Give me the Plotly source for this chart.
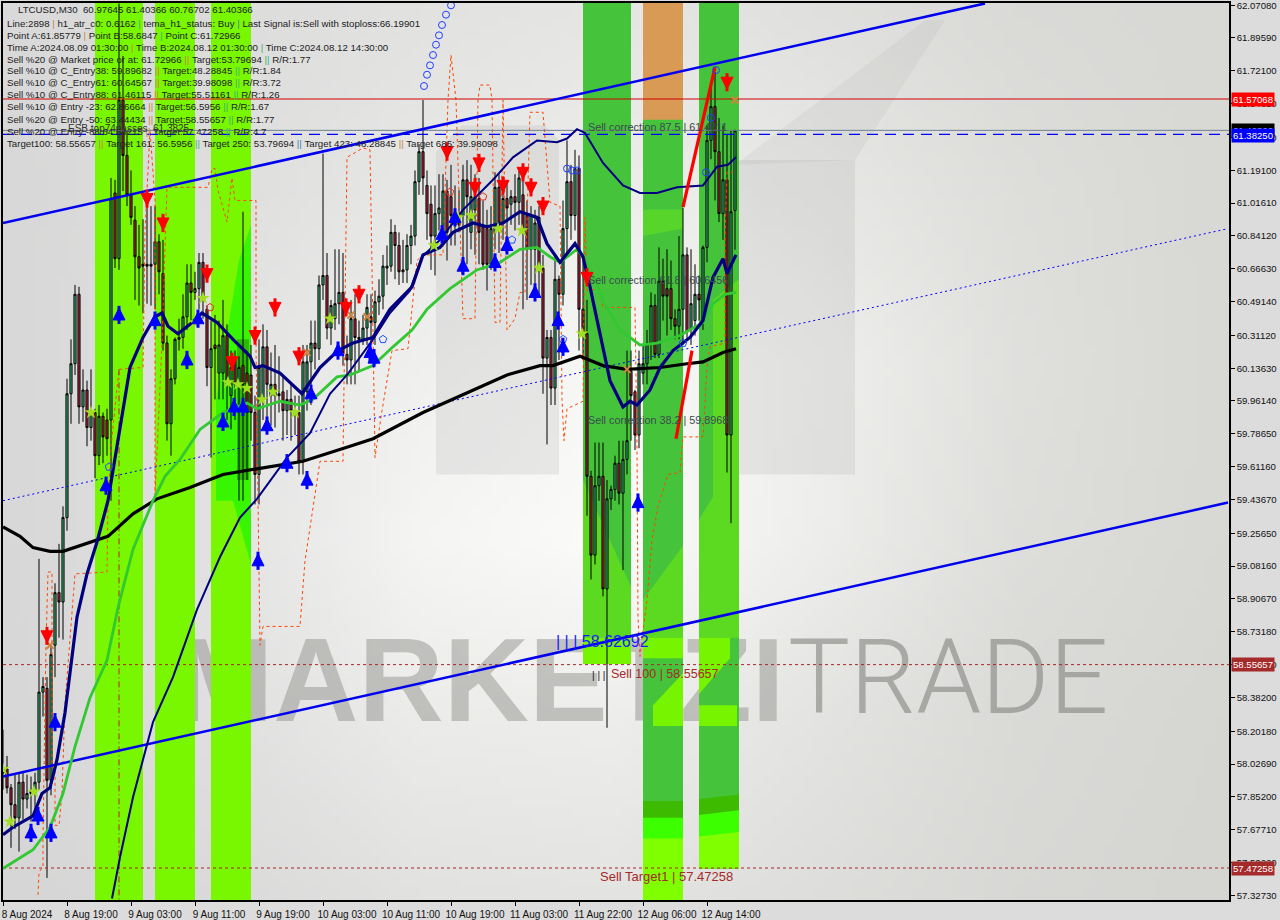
import re, zlib, struct, base64
import plotly.graph_objects as go

# ---- candle data (price) ----
highs = [58.21,58.07,57.92,57.97,57.98,57.99,57.97,57.96,57.98,59.12,58.49,58.49,58.66,58.99,59.20,59.40,60.08,60.29,60.58,60.57,
60.13,60.07,60.13,59.92,59.94,59.90,59.92,61.15,61.14,62.08,61.80,61.40,61.19,61.00,60.90,60.93,61.00,61.00,61.00,60.85,
60.82,60.31,60.13,60.30,60.40,60.53,60.69,60.69,60.65,60.75,60.75,60.47,60.39,60.42,60.39,60.50,60.37,60.23,60.23,60.20,
60.97,60.23,60.26,59.99,60.29,60.37,60.34,60.22,60.26,60.20,60.10,60.02,60.05,59.99,59.99,60.26,60.26,60.39,60.39,60.63,
61.28,60.75,60.50,60.77,60.77,60.75,60.31,60.50,60.53,60.39,60.42,60.53,60.53,60.55,60.61,60.74,60.79,60.93,60.90,60.86,
60.82,60.85,60.90,61.19,61.33,61.565,61.19,61.11,61.11,61.17,61.17,61.14,61.22,61.11,61.085,61.22,61.245,61.22,61.17,61.15,
61.03,60.98,61.00,61.18,61.17,61.14,61.14,61.085,61.17,61.19,61.14,61.03,61.00,60.98,61.00,60.74,60.34,60.34,60.74,60.63,
61.03,61.35,61.22,61.30,61.27,60.71,60.50,59.59,59.74,59.74,59.74,59.54,59.51,59.67,59.75,59.75,60.23,60.23,60.02,60.23,
60.26,60.34,60.54,60.53,60.78,60.72,60.77,60.71,60.45,60.84,60.99,60.78,60.77,60.69,60.63,60.79,61.43,61.64,61.715,61.47,
61.43,61.38,61.405,61.40366]
opens = [58.00,58.00,57.90,57.81,57.74,57.93,57.84,57.88,57.87,57.93,58.41,58.43,57.94,58.66,58.94,58.89,59.34,60.00,60.16,60.53,
59.93,60.02,59.82,59.90,59.67,59.88,59.86,59.86,61.07,60.72,61.565,61.27,61.06,60.925,60.73,60.69,60.69,60.69,60.69,60.81,
60.64,60.27,59.84,60.08,60.29,60.30,60.41,60.59,60.54,60.56,60.70,60.45,60.14,60.26,60.11,60.11,60.31,59.99,60.18,60.05,
60.15,60.11,60.10,59.90,59.57,59.97,60.25,59.99,60.05,59.99,60.01,59.91,59.97,59.91,59.90,59.64,60.01,60.17,60.27,60.24,
60.58,60.63,60.35,60.40,60.48,60.54,60.21,60.18,60.40,60.30,60.29,60.35,60.41,60.38,60.49,60.52,60.67,60.68,60.86,60.79,
60.65,60.66,60.79,60.84,61.13,61.29,61.11,61.01,60.84,60.96,60.84,61.08,61.05,60.96,60.95,60.95,61.14,60.86,60.98,61.04,
60.89,60.88,60.69,60.86,61.10,60.91,61.04,61.01,61.05,61.02,61.06,60.95,60.77,60.77,60.94,60.67,60.19,60.30,60.03,60.61,
60.53,60.88,61.13,60.95,61.20,60.45,60.32,59.56,59.14,59.51,59.56,58.96,59.44,59.49,59.63,59.47,59.65,60.12,60.01,59.78,
60.11,60.16,60.27,60.47,60.21,60.60,60.56,60.56,60.40,60.36,60.45,60.74,60.34,60.39,60.53,60.39,60.78,61.35,61.53,61.29,
60.96,61.14,59.78,60.97645]
closes = [57.98,57.90,57.81,57.74,57.93,57.84,57.87,57.87,57.93,58.41,58.44,57.94,58.61,58.94,58.89,59.34,60.00,60.16,60.53,59.93,
60.02,59.82,59.90,59.67,59.88,59.77,59.76,61.04,60.72,61.565,61.27,61.06,60.94,60.73,60.67,60.68,60.68,60.68,60.81,60.65,
60.27,59.84,60.08,60.29,60.30,60.41,60.59,60.54,60.56,60.70,60.51,60.14,60.24,60.24,60.26,60.31,60.05,60.14,60.05,60.14,
60.05,59.90,59.90,59.57,60.14,60.25,60.05,60.05,59.99,60.00,59.91,59.97,59.91,59.90,59.64,60.17,60.17,60.27,60.24,60.58,
60.63,60.35,60.47,60.48,60.54,60.22,60.18,60.40,60.30,60.29,60.35,60.46,60.38,60.49,60.52,60.68,60.68,60.86,60.79,60.65,
60.66,60.79,60.84,61.13,61.29,61.15,60.96,60.84,60.96,60.99,61.08,60.86,60.95,60.90,60.90,61.14,61.05,61.05,61.05,60.86,
60.69,60.69,60.88,61.10,60.91,61.04,60.99,61.05,61.02,61.15,60.86,60.77,60.95,60.91,60.67,60.19,60.30,60.03,60.61,60.53,
60.88,61.13,60.95,61.20,60.45,60.32,59.56,59.14,59.51,59.56,58.96,59.44,59.49,59.63,59.47,59.65,59.75,59.99,59.78,60.16,
60.16,60.27,60.47,60.21,60.60,60.52,60.52,60.40,60.36,60.45,60.74,60.33,60.48,60.53,60.50,60.78,61.35,61.53,61.29,60.96,
61.14,59.78,60.97,61.40366]
lows = [57.89,57.87,57.58,57.68,57.56,57.73,57.79,57.72,57.74,57.89,58.28,57.42,57.86,58.49,58.70,58.69,59.27,59.84,60.10,59.84,
59.85,59.72,59.75,59.55,59.62,59.63,59.67,59.43,60.67,60.66,61.08,61.00,60.90,60.50,60.47,60.43,60.48,60.47,60.45,60.53,
60.23,59.75,59.67,60.05,60.23,60.24,60.34,60.39,60.50,60.45,60.40,60.04,59.66,59.97,59.97,59.97,59.86,59.81,59.86,59.43,
59.43,59.54,59.75,59.41,59.41,59.86,59.81,59.83,59.82,59.90,59.75,59.78,59.75,59.78,59.57,59.57,59.91,59.94,60.13,60.18,
60.50,60.29,60.26,60.34,60.37,60.15,60.05,60.05,60.05,60.12,60.26,60.26,60.26,60.26,60.42,60.45,60.58,60.65,60.61,60.58,
60.59,60.59,60.69,60.79,61.06,61.06,60.82,60.66,60.63,60.87,60.79,60.71,60.79,60.79,60.86,60.69,60.69,60.77,60.74,60.69,
60.66,60.55,60.66,60.77,60.75,60.82,60.79,60.90,60.87,60.90,60.45,60.50,60.58,60.58,60.53,60.00,59.73,59.94,59.94,60.18,
60.47,60.74,60.82,60.87,60.23,60.18,59.35,59.01,59.09,59.43,58.92,58.22,59.38,59.43,59.41,59.06,59.57,59.75,59.70,59.71,
60.05,60.05,60.18,60.19,60.19,60.39,60.31,60.34,60.29,60.29,60.26,60.29,60.26,60.31,60.39,60.34,60.70,61.25,61.03,60.915,
60.82,59.58,59.31,60.76702]

# ---- indicator lines (bar index, price) ----
black_x = [0,4.25,7.5,11.75,15,19.25,23.5,26.25,32.5,38.5,46.75,55,63.5,75,86.75,92.5,105,117.5,126,134.25,137.5,144.25,150,156,164.25,171,175,180,183.25]
black_y = [59.29,59.24,59.18,59.16,59.16,59.19,59.22,59.24,59.36,59.44,59.50,59.57,59.60,59.64,59.72,59.76,59.90,60.02,60.10,60.15,60.15,60.20,60.15,60.13,60.14,60.16,60.17,60.22,60.24]
navy_x = [0,2.5,7.5,9.75,11.75,13.5,15.5,17.25,18.5,21,23.5,26.25,29.25,31.75,35,38,39.75,41.25,43.75,46.75,49.75,53.5,57.5,61.75,63,65,69.25,74.75,79.25,83.75,87.5,92.5,96.75,102.25,105,109.25,112.5,117.5,121,125,129.25,133.5,136,139.25,143,145,146.75,149.25,151.75,155,156.75,158.5,161.75,164.25,167.5,171.75,175,177.5,180,181,183.25]
navy_y = [57.65,57.69,57.75,57.87,57.90,58.05,58.30,58.58,58.81,59.04,59.21,59.43,59.82,60.14,60.30,60.41,60.43,60.36,60.32,60.37,60.43,60.38,60.29,60.20,60.14,60.15,60.11,60.00,60.14,60.23,60.27,60.30,60.45,60.57,60.74,60.78,60.86,60.91,60.89,60.91,60.97,60.94,60.80,60.70,60.80,60.73,60.57,60.32,60.07,59.93,59.96,59.94,60.02,60.14,60.23,60.30,60.39,60.62,60.72,60.64,60.74]
slow_x = [27.25,29.25,32.5,37.5,42.5,48.5,54.25,59.25,63.5,71,76.75,81.75,86,92.5,96.75,101.75,104.75,109.25,115,122.5,127.5,133.5,138.5,141,143.5,145.5,150,155,159.25,163.5,168.5,175,178.5,181.25,183.25]
slow_y = [57.31,57.53,57.85,58.25,58.49,58.85,59.13,59.34,59.44,59.66,59.79,60.00,60.10,60.29,60.43,60.55,60.73,60.82,60.98,61.14,61.26,61.35,61.34,61.36,61.41,61.39,61.23,61.11,61.07,61.07,61.10,61.11,61.21,61.22,61.26]
green_x = [0,7.5,11.75,15,18,21.75,26,28.75,32.5,37.5,40.5,44.25,49.25,55,61,63.5,69.25,74.25,77.5,83.5,86.75,92.5,97.5,102.25,106,111.75,118.5,124.25,129.25,133.5,136.75,139.25,143.5,146,150,154.25,159.25,163.5,169.25,175,177.5,180.5,183.25]
green_y = [57.47,57.57,57.69,57.87,58.12,58.38,58.58,58.86,59.17,59.43,59.56,59.65,59.81,59.90,59.95,59.92,59.96,59.94,59.97,60.09,60.10,60.15,60.25,60.34,60.45,60.56,60.66,60.70,60.77,60.78,60.73,60.70,60.77,60.70,60.50,60.34,60.26,60.27,60.31,60.38,60.48,60.53,60.54]
zig_x = [8.75,9,10,10,10.75,11.25,12.25,12.25,13,13,14,14.75,15.5,17.25,18,26,26.25,27.25,29,35,35.5,36.75,38,38,39.75,41,51.25,52.25,53,53.75,56,57.25,58,63.25,63.25,63.75,64.25,65,74.25,75.5,78.75,79.25,85,86,90,91.75,92.25,93,94.75,97.25,101.25,103.5,105,110,111.25,112,113.25,115,118,118.75,119.25,121.75,122.25,123,124.25,125,126,128,129.25,130.5,131.75,135,136.75,139.25,139.75,140.25,141,145,145.5,146,149.25,150,158,158.5,158.75,159.25,160,161,162.25,163.75,165.5,166.25,169.25,170,175,176,176.75,180.5,180.5,181,182.5]
zig_y = [57.33,57.45,57.48,57.64,58.67,59.05,59.05,58.01,57.99,57.70,57.70,57.87,58.35,58.83,59.04,59.05,59.43,59.77,60.13,60.14,60.86,61.405,61.03,59.46,60.27,61.10,61.10,61.20,61.20,61.085,60.915,61.15,61.03,61.03,60.25,59.43,58.66,58.76,58.76,59.11,59.59,59.64,59.64,61.26,61.31,61.30,60.67,59.66,59.91,60.23,60.24,60.71,60.74,60.74,61.565,61.805,61.565,60.40,60.40,61.565,61.645,61.645,61.565,60.38,60.38,61.565,60.34,60.40,60.54,60.54,61.50,61.50,61.02,61.00,59.97,59.75,59.92,59.96,60.94,60.55,60.56,60.46,60.46,59.72,58.81,58.60,58.74,58.90,59.22,59.40,59.52,59.57,59.58,59.77,59.77,60.14,60.25,60.27,60.82,61.18,61.18]

# channel + levels
chan_top_x, chan_top_y = [0,245.5],[60.91,62.08]
chan_bot_x, chan_bot_y = [0,306.25],[57.96,59.42]
chan_mid_x, chan_mid_y = [0,306.25],[59.43,60.88]
level_red = 61.57068
level_blue = 61.3825
level_bid = 61.40366
level_t100 = 58.55657
level_t1 = 57.47258
vline_bar = 29
red_leg1_x, red_leg1_y = [168.25,172.25],[59.76,60.23]
red_leg2_x, red_leg2_y = [170,178],[60.995,61.74]

# signal markers
up_x = [7,8.75,12,13,63.75,25.75,29,38,46,48.75,55,57.75,60,66,71,76,77,83.75,91.75,92.75,109.75,113,115,123,126,133,138.75,140,158.75]
up_y = [57.66,57.75,57.66,58.25,59.11,59.51,60.42,60.39,60.18,60.40,59.85,59.93,59.93,59.83,59.63,59.54,60.00,60.23,60.22,60.19,60.85,60.94,60.68,60.70,60.79,60.54,60.39,60.25,59.42]
down_x = [11,36,40,51,57.25,63,68,74,85.75,89,111,118,119,125,130,132,135,146,181]
down_y = [58.71,61.04,60.91,60.64,60.17,60.31,60.46,60.20,60.46,60.53,61.29,61.10,61.23,61.11,61.18,61.10,61.00,60.62,61.66]
cross_x = [11.75,76,87,91,156,183]
cross_y = [58.66,60.22,60.42,60.41,60.13,61.565]
star_x = [0,1.75,7.75,22,48,50,56.25,58.75,61,64.75,67.5,73,81.75,107.75,113.75,117,123.75,129.75,134,144.75]
star_y = [58.00,57.72,57.88,59.90,60.38,60.51,60.06,60.05,60.03,59.97,60.01,59.90,60.40,60.79,60.94,60.95,60.88,60.87,60.67,60.32]
circ_x = [105.25,106,106.75,107.5,108.25,109,109.75,110.75,112,141,142.25,143.5,175.75,177,178.25]
circ_y = [61.64,61.70,61.75,61.805,61.86,61.91,61.965,62.02,62.07,61.20,61.19,61.19,61.18,61.47,61.725]
hollow_red_x, hollow_red_y = [51.75,111.75,120],[60.46,61.075,61.05]
hollow_blue_x, hollow_blue_y = [26.5,95,127.25,140,170],[59.61,60.29,60.82,60.29,60.27]

# axes
y_ticks = [62.0708,61.8959,61.721,61.5461,61.3659,61.191,61.0161,60.8412,60.6663,60.4914,60.3112,60.1363,59.9614,59.7865,59.6116,59.4367,59.2565,59.0816,58.9067,58.7318,58.5569,58.382,58.2018,58.0269,57.852,57.6771,57.5022,57.3273]
x_tick_bars = [0,16,32,48,64,80,96,112,128,144,160,176]
x_tick_text = ["8 Aug 2024","8 Aug 19:00","9 Aug 03:00","9 Aug 11:00","9 Aug 19:00","10 Aug 03:00","10 Aug 11:00","10 Aug 19:00","11 Aug 03:00","11 Aug 22:00","12 Aug 06:00","12 Aug 14:00"]

# background shade grid, top row first
bg_shades = [[218,220,226,230,224,218,216],
             [216,222,232,238,232,222,216],
             [216,226,240,248,240,224,216],
             [216,226,245,252,238,222,216],
             [215,224,236,238,228,218,214],
             [214,218,226,228,222,216,213]]

# signal zones
band_starts = [23,38,52,145,160,174]
band_ends = [35,48,62,157,170,184]
LIME, GREEN = '#78f700', '#45c43b'
TOP, BOT = 62.09, 57.30

def gradient_png(grid, w=122, h=90):
    rows = []
    nr, nc = len(grid), len(grid[0])
    for j in range(h):
        fy = j/(h-1)*(nr-1); r0 = min(int(fy), nr-2); ty = fy-r0
        row = bytearray([0])
        for i in range(w):
            fx = i/(w-1)*(nc-1); c0 = min(int(fx), nc-2); tx = fx-c0
            v = (grid[r0][c0]*(1-tx)+grid[r0][c0+1]*tx)*(1-ty)+(grid[r0+1][c0]*(1-tx)+grid[r0+1][c0+1]*tx)*ty
            row += bytes([int(v), int(v), int(v-3*i/w)])
        rows.append(bytes(row))
    def chunk(t, d):
        return struct.pack('>I', len(d))+t+d+struct.pack('>I', zlib.crc32(t+d))
    png = b'\x89PNG\r\n\x1a\n'+chunk(b'IHDR', struct.pack('>IIBBBBB', w, h, 8, 2, 0, 0, 0))+chunk(b'IDAT', zlib.compress(b''.join(rows)))+chunk(b'IEND', b'')
    return 'data:image/png;base64,'+base64.b64encode(png).decode()

fig = go.Figure()
shapes = []
def poly(xs, ys, color):
    path = 'M ' + ' L '.join('%s,%s' % p for p in zip(xs, ys)) + ' Z'
    shapes.append(dict(type='path', path=path, xref='x', yref='y', fillcolor=color, line=dict(width=0), layer='below'))

# watermark logo
WM = 'rgba(150,150,150,0.16)'
poly([108.25,114.75,135.5,139,139,108.25],[61.29,61.43,61.43,61.35,59.57,59.57],WM)
poly([183,213,213,183],[61.245,61.245,59.57,59.57],WM)
poly([183,230.5,235.5,213],[61.22,61.99,61.99,61.245],'rgba(150,150,150,0.10)')

# large watermark text
shapes.append(dict(type='rect', xref='x', yref='y', x0=41.5, x1=194.75, y0=58.257, y1=58.807, line=dict(width=0),
                   fillcolor='rgba(0,0,0,0)', layer='below',
                   label=dict(text='<b>MARKETZI</b>', textposition='middle left',
                              font=dict(family='Liberation Sans', size=118, color='rgba(150,150,146,0.52)'))))
shapes.append(dict(type='rect', xref='x', yref='y', x0=194.75, x1=276, y0=58.257, y1=58.807, line=dict(width=0),
                   fillcolor='rgba(0,0,0,0)', layer='below',
                   label=dict(text='TRADE', textposition='middle left',
                              font=dict(family='Roboto', size=104, weight=300, color='rgba(130,130,126,0.6)'))))

# bands
for s, e in zip(band_starts[:3], band_ends[:3]):
    poly([s,e,e,s],[TOP,TOP,BOT,BOT],LIME)
for s, e, b in zip(band_starts[3:], band_ends[3:], [58.56,BOT,57.47]):
    poly([s,e,e,s],[TOP,TOP,b,b],GREEN)
poly([160,170,170,160],[TOP,TOP,61.46,61.46],'#d99a55')
poly([53.25,53.25,59,62,62,57.5],[59.43,59.97,60.71,60.90,59.09,59.43],'#38f500')
poly([58.5,61.5,61.5,58.5],[60.29,60.29,59.54,59.54],'#2dbb00')
poly([145,157,157,145],[59.54,58.97,58.70,58.70],'#5cda22')
poly([160,170,170,160],[58.90,59.19,58.70,58.70],'#5cda22')
poly([174,177.5,177.5,184,184,174],[59.33,59.45,60.50,60.61,58.70,58.70],'#5cda22')
poly([160,170,170,160],[60.98,60.98,60.88,60.84],'#58d52a')
poly([145,157,157,145],[58.70,58.70,58.56,58.56],'#76f400')
poly([160,170,170,160],[58.70,58.70,58.59,58.59],'#76f400')
poly([162.5,170,170,162.5],[58.34,58.51,58.23,58.23],'#76f400')
poly([174,181.75,181.75,174],[58.70,58.70,58.59,58.40],'#76f400')
poly([174,183.5,183.5,174],[58.34,58.34,58.23,58.23],'#76f400')
poly([160,170,170,160],[57.83,57.83,BOT,BOT],'#3dbb00')
poly([160,170,170,160],[57.74,57.74,BOT,BOT],'#3cff00')
poly([160,170,170,160],[57.63,57.63,BOT,BOT],'#80ff00')
poly([174,184,184,174],[57.84,57.865,57.47,57.47],'#3dbb00')
poly([174,184,184,174],[57.755,57.78,57.47,57.47],'#3cff00')
poly([174,184,184,174],[57.64,57.665,57.47,57.47],'#80ff00')

def line(xs, ys, color, width, dash='solid'):
    fig.add_trace(go.Scatter(x=xs, y=ys, mode='lines', line=dict(color=color, width=width, dash=dash), hoverinfo='skip'))

n = len(opens)
fig.add_trace(go.Candlestick(x=list(range(n)), open=opens, high=highs, low=lows, close=closes,
    increasing=dict(line=dict(color='black', width=1), fillcolor='#3cb371'),
    decreasing=dict(line=dict(color='black', width=1), fillcolor='#b02a40'),
    whiskerwidth=0, hoverinfo='skip', showlegend=False))

line(zig_x, zig_y, '#ff4500', 1, '3px,3px')
line([vline_bar,vline_bar],[60.13,BOT],'#b22222',1,'6px,3px,1px,3px')
line(chan_mid_x, chan_mid_y, '#0000ff', 1, '2px,3px')
line([0,306.5],[level_red,level_red], '#d00000', 1)
line([0,306.5],[level_bid,level_bid], '#708090', 1)
line([0,306.5],[level_blue,level_blue], '#0000ff', 1.2, '11px,7px')
line([0,306.5],[level_t100,level_t100], '#a52a2a', 1, '3px,3px')
line([0,306.5],[level_t1,level_t1], '#a52a2a', 1, '3px,3px')

line(chan_top_x, chan_top_y, '#0000ee', 2.5)
line(chan_bot_x, chan_bot_y, '#0000ee', 2.5)
line(black_x, black_y, '#000000', 3.2)
line(green_x, green_y, '#32c832', 2.8)
line(slow_x, slow_y, '#000080', 2)
line(navy_x, navy_y, '#000080', 3.2)
line(red_leg1_x, red_leg1_y, '#ff0000', 3.2)
line(red_leg2_x, red_leg2_y, '#ff0000', 3.2)

def marks(xs, ys, symbol, color, size, lw=0):
    fig.add_trace(go.Scatter(x=xs, y=ys, mode='markers', hoverinfo='skip',
                             marker=dict(symbol=symbol, color=color, size=size, line=dict(color=color, width=lw))))

marks(star_x, star_y, 'star', '#a0e020', 10)
marks(cross_x, cross_y, 'x-thin', '#cd853f', 7, 2)
marks(circ_x, circ_y, 'circle-open', '#1e40ff', 7, 1)
marks(hollow_red_x, hollow_red_y, 'pentagon-open', '#e03020', 8, 1)
marks(hollow_blue_x, hollow_blue_y, 'pentagon-open', '#2050ff', 8, 1)
HEAD = 0.037   # the arrow glyph hangs from its tip; lift it so the marker centres on its value
marks(up_x, up_y, 'line-ns', '#0000ff', 13, 3)
marks(down_x, down_y, 'line-ns', '#ff0000', 13, 3)
marks(up_x, [v+HEAD for v in up_y], 'arrow-up', '#0000ff', 12, 1)
marks(down_x, [v-HEAD for v in down_y], 'arrow-down', '#ff0000', 12, 1)

# text
W, H = 1280, 920
L, R, T, B = 3, 51, 3, 20
PW, PH = W-L-R, H-T-B
def ann(px, py, text, color='#222', size=10, font='Liberation Sans'):
    fig.add_annotation(xref='paper', yref='paper', x=(px-2-L)/PW, y=1-(py-T)/PH, text=text, showarrow=False,
                       xanchor='left', yanchor='middle', font=dict(family=font, size=size, color=color))

sep_cols = ['#cd853f','#3cb371','#4682b4','#cd853f','#3cb371','#4682b4']
def colorize(s):
    cols = iter(sep_cols)
    return re.sub(r'\|+', lambda m: '<span style="color:%s">%s</span>' % (next(cols), m.group(0)), s)

header = [
 (18,10,"LTCUSD,M30  60.97645 61.40366 60.76702 61.40366"),
 (7,23,"Line:2898 | h1_atr_c0: 0.6162 | tema_h1_status: Buy | Last Signal is:Sell with stoploss:66.19901"),
 (7,35,"Point A:61.85779 | Point B:58.6847 | Point C:61.72966"),
 (7,47,"Time A:2024.08.09 01:30:00 | Time B:2024.08.12 01:30:00 | Time C:2024.08.12 14:30:00"),
 (7,60,"Sell %20 @ Market price or at: 61.72966 || Target:53.79694 || R/R:1.77"),
 (7,71,"Sell %10 @ C_Entry38: 59.89682 || Target:48.28845 || R/R:1.84"),
 (7,83,"Sell %10 @ C_Entry61: 60.64567 || Target:39.98098 || R/R:3.72"),
 (7,95,"Sell %10 @ C_Entry88: 61.46115 || Target:55.51161 || R/R:1.26"),
 (7,107,"Sell %10 @ Entry -23: 62.86664 || Target:56.5956 || R/R:1.67"),
 (7,119,"Sell %20 @ Entry -50: 63.44434 || Target:58.55657 || R/R:1.77"),
 (7,131,"Sell %20 @ Entry -88:64.54215 || Target:57.47258 || R/R:4.7"),
 (7,143,"Target100: 58.55657 || Target 161: 56.5956 || Target 250: 53.79694 || Target 423: 48.28845 || Target 685: 39.98098"),
]
for px, py, s in header:
    ann(px, py, colorize(s), '#222', 9.7)
ann(68,128,"ESB top74passes",'#333',10)
ann(153,128,"61.3825",'#333',10)

ann(588,127,"Sell correction 87.5 | 61.4811",'#3a4a50',10.8)
ann(588,280,"Sell correction 61.8 | 60.6456",'#3a4a50',10.8)
ann(588,420,"Sell correction 38.2 | 59.8968",'#3a4a50',10.8)
ann(556,641,"| | | 58.62692",'#1a1aff',16)
ann(592,675,"| | |",'#111',10)
ann(611,674,"Sell 100 | 58.55657",'#a52a2a',12.5)
ann(600,876,"Sell Target1 | 57.47258",'#a52a2a',13)

for val, bg in [(level_bid,'#000000'),(level_red,'#ff0000'),(level_blue,'#0000ff'),(level_t100,'#a52a2a'),(level_t1,'#a52a2a')]:
    fig.add_annotation(xref='paper', yref='y', x=1.0, y=val, xshift=2, xanchor='left', yanchor='middle',
                       yshift=-1 if val==level_blue else 0,
                       text='%.5f' % val, showarrow=False, bgcolor=bg, borderpad=1,
                       font=dict(family='Liberation Sans', size=9.6, color='white'))

fig.update_layout(width=W, height=H, margin=dict(l=L,r=R,t=T,b=B,autoexpand=False), showlegend=False, hovermode=False,
    paper_bgcolor='#dcdcdc', plot_bgcolor='#e0e0e0', boxgap=0.25, shapes=shapes,
    images=[dict(source=gradient_png(bg_shades), xref='paper', yref='paper', x=0, y=1, sizex=1, sizey=1,
                 xanchor='left', yanchor='top', sizing='stretch', layer='below')],
    font=dict(family='Liberation Sans', size=10, color='#111'))
fig.update_xaxes(range=[0,306.5], tickmode='array', tickvals=x_tick_bars, ticktext=x_tick_text, ticks='outside', ticklen=4,
                 tickcolor='black', showgrid=False, zeroline=False, showline=True, linecolor='black', linewidth=1.5, mirror=True,
                 rangeslider=dict(visible=False), tickangle=0, tickfont=dict(family='Liberation Sans', size=10),
                 ticklabelshift=24, ticklabeloverflow='allow')
fig.update_yaxes(range=[57.3022,62.0823], side='right', tickmode='array', tickvals=y_ticks, ticktext=['%.5f'%v for v in y_ticks],
                 ticks='outside', ticklen=4, tickcolor='black', showgrid=False, zeroline=False, showline=True, linecolor='black',
                 linewidth=1.5, mirror=True, tickfont=dict(family='Liberation Sans', size=9.6), ticklabeloverflow='allow')

fig.write_html("out.html", config=dict(displayModeBar=False),
               post_script="document.body.style.margin='0';document.body.style.overflow='hidden';")
